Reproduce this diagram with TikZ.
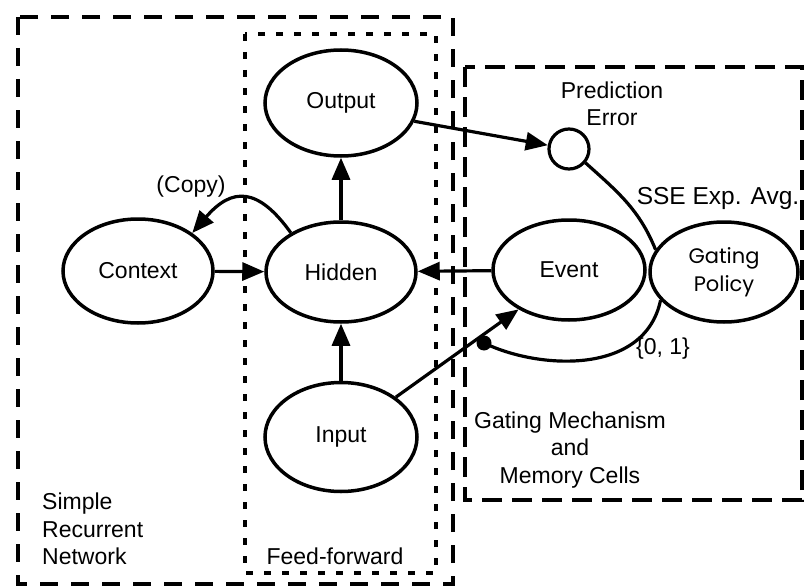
\documentclass[tikz,border=0pt]{standalone}
\usepackage{fontspec}
\setmainfont{Liberation Sans}
\newfontfamily\geofont{Poppins}
\usetikzlibrary{shapes.geometric,arrows.meta}
\begin{document}
\begin{tikzpicture}[x=1pt,y=-1pt,
  elli/.style={ellipse, draw, line width=3.5pt, inner sep=0pt, fill=white,
    font=\fontsize{23}{27}\selectfont},
  conn/.style={line width=3.2pt, -{Triangle[length=22pt,width=18pt]}},
  plain/.style={line width=3.2pt},
  lbl/.style={font=\fontsize{23}{27.5}\selectfont, inner sep=0pt, align=center},
  outerbox/.style={line width=4.2pt, dash pattern=on 18pt off 13pt},
  ffbox/.style={line width=3.6pt, dash pattern=on 7pt off 11pt},
  gatebox/.style={line width=4.2pt, dash pattern=on 20pt off 10pt}]
\useasboundingbox (0,0) rectangle (806,586);

% boxes
\draw[outerbox] (18,17) rectangle (453,584);
\draw[ffbox] (245,34) rectangle (436,573);
\draw[gatebox] (465,67) rectangle (802,500);

% nodes
\node[elli, minimum width=152pt, minimum height=106pt] (Output) at (341,103) {Output};
\node[elli, minimum width=150pt, minimum height=100pt] (Hidden) at (341,272) {Hidden};
\node[elli, minimum width=152pt, minimum height=109pt] (Input) at (341,437) {Input};
\node[elli, minimum width=150pt, minimum height=104pt] (Context) at (138,271) {Context};
\node[elli, minimum width=152pt, minimum height=100pt] (Event) at (569,270) {Event};
\node[elli, minimum width=148pt, minimum height=100pt, align=center,
      font=\geofont\fontsize{21}{28}\selectfont] (GP) at (724,272) {Gating\\Policy};
\node[circle, draw, line width=3.2pt, minimum size=40pt, inner sep=0pt] (PE) at (569,149) {};
\node[circle, fill=black, minimum size=15pt, inner sep=0pt] (gate) at (484,343) {};

% labels
\node[lbl] (lcopy) at (191,187) {(Copy)};
\node[lbl] (lpe) at (612,104) {Prediction\\Error};
\node[lbl, font=\fontsize{24.5}{28}\selectfont] (lsse) at (718,198) {SSE Exp. Avg.};
\node[lbl] (l01) at (663,349) {\{0, 1\}};
\node[lbl] (lgm) at (570,450) {Gating Mechanism\\and\\Memory Cells};
\node[lbl, align=left, anchor=west] (lsrn) at (42,529) {Simple\\Recurrent\\Network};
\node[lbl] (lff) at (335,556) {Feed-forward};

% connectors
\draw[conn] (Context) -- (Hidden);
\draw[conn] (Hidden) -- (Output);
\draw[conn] (Input) -- (Hidden);
\draw[conn] (Event) -- (Hidden);
\draw[conn] (Input.36) -- (Event.218);
\draw[conn] (Hidden.142) .. controls (258,187) and (232,187) .. (Context.35);
\draw[conn] (Output.-14) -- (PE);
\draw[plain] (PE.-40) to[out=-42,in=112] (GP.162);
\draw[plain] (GP.204) .. controls (645,375) and (540,370) .. (gate.center);
\end{tikzpicture}
\end{document}
